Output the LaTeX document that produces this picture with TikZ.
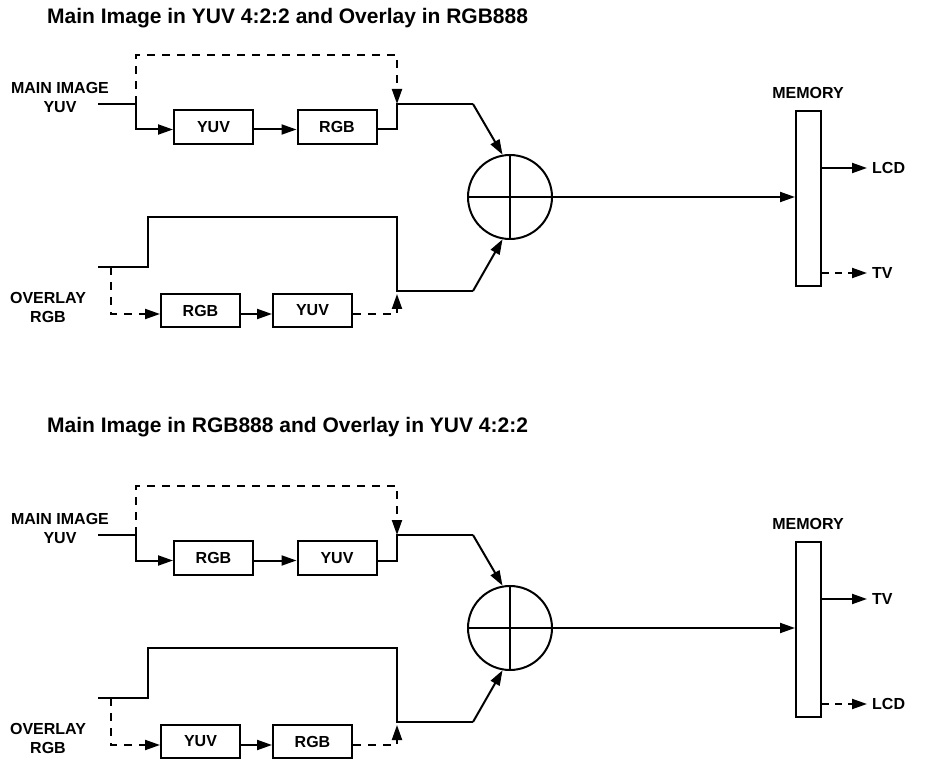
\documentclass[tikz,border=0pt]{standalone}
\usepackage{fontspec}
\setmainfont{Liberation Sans}
\usetikzlibrary{arrows.meta}
\tikzset{
  wire/.style={line width=2pt},
  dashwire/.style={wire, dash pattern=on 8pt off 7pt},
  arr/.style={-{Triangle[length=15pt,width=10pt]}},
  convbox/.style={draw, line width=2pt, minimum width=79pt, minimum height=34pt, inner sep=0pt, font=\fontsize{16}{19}\selectfont\bfseries},
  lbl/.style={font=\fontsize{16}{19}\selectfont\bfseries, align=center, inner sep=0pt},
  ttl/.style={font=\fontsize{21}{25}\selectfont\bfseries, anchor=west, inner sep=0pt},
  mixer/.style={draw, circle, line width=2pt, minimum size=84pt, inner sep=0pt},
  membox/.style={draw, line width=2pt, minimum width=25pt, minimum height=175pt, inner sep=0pt},
}
\newcommand\blendpart[6]{%
  % main image path
  \node[lbl] (mainlbl) at (60,97) {MAIN IMAGE\\YUV};
  \coordinate (ms) at (98,104);
  \coordinate (mj) at (136,104);
  \coordinate (mt1) at (136,55);
  \coordinate (mt2) at (397,55);
  \coordinate (mk) at (397,104);
  \coordinate (ml) at (136,129.5);
  \coordinate (mb) at (397,129.5);
  \coordinate (mo) at (473,104);
  \node[convbox] (bA) at (213.5,127) {#1};
  \node[convbox] (bB) at (337,127) {#2};
  \node[mixer] (mix) at (510,197) {};
  \draw[wire] (mix.west) -- (mix.east);
  \draw[wire] (mix.north) -- (mix.south);
  \draw[wire] (ms) -- (mj);
  \draw[dashwire, arr] (mj) -- (mt1) -- (mt2) -- (mk);
  \draw[wire, arr] (mj) -- (ml) -- (ml -| bA.west);
  \draw[wire, arr] (ml -| bA.east) -- (ml -| bB.west);
  \draw[wire] (ml -| bB.east) -- (mb) -- (mk) -- (mo);
  \draw[wire, arr] (mo) -- (mix.100);
  % overlay path
  \node[lbl] (ovlbl) at (48,307) {OVERLAY\\RGB};
  \coordinate (os) at (98,267);
  \coordinate (oj) at (148,267);
  \coordinate (ot1) at (148,217);
  \coordinate (ot2) at (397,217);
  \coordinate (ok) at (397,291);
  \coordinate (okk) at (397,294);
  \coordinate (oo) at (473,291);
  \coordinate (od) at (111,267);
  \coordinate (od2) at (111,314);
  \coordinate (ob) at (397,314);
  \node[convbox, minimum height=33pt] (bC) at (200.5,310.5) {#3};
  \node[convbox, minimum height=33pt] (bD) at (312.5,310.5) {#4};
  \draw[wire] (os) -- (oj) -- (ot1) -- (ot2) -- (ok) -- (oo);
  \draw[wire, arr] (oo) -- (mix.260);
  \draw[dashwire, arr] (od) -- (od2) -- (od2 -| bC.west);
  \draw[wire, arr] (od2 -| bC.east) -- (od2 -| bD.west);
  \draw[dashwire, arr] (od2 -| bD.east) -- (ob) -- (okk);
  % memory
  \node[membox] (mem) at (808.5,198.5) {};
  \node[lbl] (memlbl) at (808,93) {MEMORY};
  \draw[wire, arr] (mix.east) -- (mix.east -| mem.west);
  \coordinate (u1) at (867,168);
  \coordinate (u2) at (867,273);
  \draw[wire, arr] (u1 -| mem.east) -- (u1);
  \draw[wire, dash pattern=on 7pt off 6pt, arr] (u2 -| mem.east) -- (u2);
  \node[lbl, anchor=west] (u1l) at (872,168) {#5};
  \node[lbl, anchor=west] (u2l) at (872,273) {#6};
}
\begin{document}
\begin{tikzpicture}[x=1pt, y=-1pt]
  \useasboundingbox (0,0) rectangle (938,759);
  \node[ttl] (t1) at (47,18) {Main Image in YUV 4:2:2 and Overlay in RGB888};
  \node[ttl] (t2) at (47,427) {Main Image in RGB888 and Overlay in YUV 4:2:2};
  \begin{scope}[name prefix=up-]
    \blendpart{YUV}{RGB}{RGB}{YUV}{LCD}{TV}
  \end{scope}
  \begin{scope}[yshift=-431pt, name prefix=lo-]
    \blendpart{RGB}{YUV}{YUV}{RGB}{TV}{LCD}
  \end{scope}
\end{tikzpicture}
\end{document}
